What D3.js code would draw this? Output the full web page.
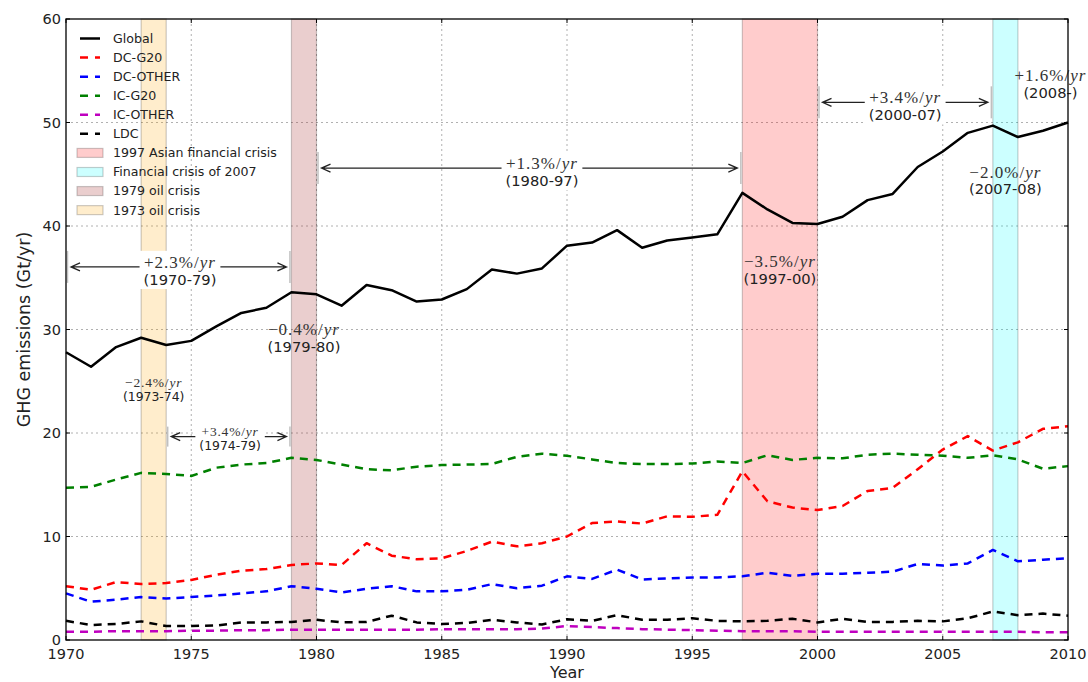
<!DOCTYPE html>
<html><head><meta charset="utf-8">
<script src="https://cdn.jsdelivr.net/npm/d3@7"></script>
<style>
body{margin:0;background:#fff}
svg{display:block}
text{font-family:"DejaVu Sans",sans-serif}
</style>
</head><body>
<svg id="c" width="1088" height="682"></svg>
<script>
// ---------------- data ----------------
const years = d3.range(1970, 2011);
const globalVals = [27.8,26.4,28.3,29.2,28.5,28.9,30.3,31.6,32.1,33.6,
                    33.4,32.3,34.3,33.8,32.7,32.9,33.9,35.8,35.4,35.9,
                    38.1,38.4,39.6,37.9,38.6,38.9,39.2,43.2,41.6,40.3,
                    40.2,40.9,42.5,43.1,45.7,47.2,49.0,49.7,48.6,49.2,50.0];
const dcG20 = [5.2,4.85,5.6,5.4,5.5,5.8,6.3,6.7,6.85,7.25,
               7.4,7.25,9.35,8.15,7.8,7.9,8.6,9.5,9.05,9.35,
               10.0,11.3,11.45,11.25,11.95,11.9,12.1,16.3,13.4,12.8,
               12.55,12.95,14.4,14.7,16.5,18.4,19.7,18.3,19.1,20.4,20.65];
const dcOther = [4.5,3.7,3.9,4.15,4.0,4.15,4.3,4.5,4.7,5.2,
                 4.95,4.6,4.95,5.2,4.7,4.7,4.85,5.4,5.0,5.25,
                 6.15,5.9,6.8,5.85,5.95,6.05,6.05,6.15,6.5,6.2,
                 6.4,6.4,6.5,6.6,7.35,7.2,7.4,8.7,7.6,7.75,7.9];
const icG20 = [14.7,14.8,15.5,16.15,16.05,15.85,16.65,16.95,17.1,17.6,
               17.4,16.95,16.5,16.4,16.75,16.9,16.95,17.0,17.7,18.0,
               17.8,17.45,17.1,17.0,17.0,17.05,17.25,17.1,17.85,17.4,
               17.6,17.55,17.9,18.0,17.9,17.8,17.6,17.85,17.45,16.55,16.8];
const icOther = [0.8,0.8,0.85,0.85,0.85,0.9,0.9,0.95,0.95,1.0,
                 1.0,1.0,1.0,1.0,1.0,1.05,1.05,1.05,1.05,1.1,
                 1.35,1.25,1.15,1.05,1.0,0.95,0.9,0.85,0.85,0.85,
                 0.8,0.8,0.8,0.8,0.8,0.8,0.8,0.8,0.8,0.75,0.75];
const ldc = [1.85,1.45,1.55,1.8,1.35,1.35,1.4,1.7,1.7,1.75,
             1.95,1.7,1.75,2.35,1.7,1.55,1.65,1.95,1.7,1.5,
             2.0,1.85,2.4,1.95,1.95,2.1,1.85,1.8,1.85,2.05,
             1.7,2.05,1.75,1.75,1.85,1.8,2.1,2.75,2.4,2.55,2.35];

const seriesNames = ["Global","DC-G20","DC-OTHER","IC-G20","IC-OTHER","LDC"];
const seriesValues = [globalVals, dcG20, dcOther, icG20, icOther, ldc];
const seriesColors = ["#000000","#ff0000","#0000ff","#008000","#bf00bf","#000000"];
const seriesDashed = [false,true,true,true,true,true];

const bandNames = ["1997 Asian financial crisis","Financial crisis of 2007","1979 oil crisis","1973 oil crisis"];
const bandStart = [1997,2007,1979,1973];
const bandEnd = [2000,2008,1980,1974];
const bandColors = ["#ff0000","#00ffff","#a52a2a","#ffa500"];

// growth arrows
const arrowFrom = [1970,1974,1980,2000];
const arrowTo = [1979,1979,1997,2007];
const arrowLevel = [36.05,19.65,45.6,51.95];
const arrowRate = ["+2.3","+3.4","+1.3","+3.4"];
const arrowPeriod = ["(1970-79)","(1974-79)","(1980-97)","(2000-07)"];
const arrowTextYear = [1974.55,1976.55,1989.0,2003.5];
const arrowSmall = [false,true,false,false];

// crisis-period labels (no arrows)
const dipRate = ["\u22122.4","\u22120.4","\u22123.5","\u22122.0","+1.6"];
const dipPeriod = ["(1973-74)","(1979-80)","(1997-00)","(2007-08)","(2008-)"];
const dipYear = [1973.5,1979.5,1998.5,2007.5,2009.3];
const dipLevel = [24.86,30.05,36.62,45.25,54.6];
const dipSmall = [true,false,false,false,false];

const xTicks = [1970,1975,1980,1985,1990,1995,2000,2005,2010];
const yTicks = [0,10,20,30,40,50,60];

// ---------------- chart ----------------
const L = 66, R = 1068, T = 19, B = 640;
const svg = d3.select("#c");
const x = d3.scaleLinear().domain([1970,2010]).range([L,R]);
const y = d3.scaleLinear().domain([0,60]).range([B,T]);

// grid
const grid = svg.append("g").attr("stroke","#b0b0b0").attr("stroke-width",1).attr("stroke-dasharray","2,3");
xTicks.slice(1,-1).forEach(t => grid.append("line").attr("x1",x(t)).attr("x2",x(t)).attr("y1",T).attr("y2",B));
yTicks.slice(1,-1).forEach(t => grid.append("line").attr("x1",L).attr("x2",R).attr("y1",y(t)).attr("y2",y(t)));

// bands
const bandG = svg.append("g");
bandNames.forEach((n,i) => {
  bandG.append("rect")
    .attr("x", x(bandStart[i])).attr("width", x(bandEnd[i]) - x(bandStart[i]))
    .attr("y", T).attr("height", B - T)
    .attr("fill", bandColors[i]).attr("fill-opacity", i===2 ? 0.23 : 0.2)
    .attr("stroke", "rgba(0,0,0,0.2)").attr("stroke-width",1.2);
});

// series lines
const line = d3.line().x((d,i) => x(years[i])).y(d => y(d));
const linesG = svg.append("g").attr("fill","none");
[1,2,3,4,5,0].forEach(i => {
  linesG.append("path").datum(seriesValues[i])
    .attr("d", line)
    .attr("stroke", seriesColors[i])
    .attr("stroke-width", 2.5)
    .attr("stroke-linejoin","round")
    .attr("stroke-dasharray", seriesDashed[i] ? "8,6" : null);
});

// helper for math label: "+2.3%/yr"
function mathLabel(g, cx, cy, rate, size){
  const t = g.append("text").attr("x",cx).attr("y",cy).attr("dy","0.35em")
    .attr("text-anchor","middle")
    .style("font-family","'Liberation Serif','DejaVu Serif',serif")
    .style("font-size", size+"px").style("letter-spacing", (size*0.06)+"px")
    .attr("fill","#333");
  t.append("tspan").text(rate + "%/");
  t.append("tspan").style("font-style","italic").text("yr");
  return t;
}
function periodLabel(g, cx, cy, txt, size){
  return g.append("text").attr("x",cx).attr("y",cy).attr("dy","0.35em")
    .attr("text-anchor","middle").style("font-size", size+"px").attr("fill","#222").text(txt);
}

// arrows
const annG = svg.append("g");
arrowFrom.forEach((a,i) => {
  const g = annG.append("g");
  const yy = y(arrowLevel[i]);
  const x0 = x(a), x1 = x(arrowTo[i]);
  const half = arrowSmall[i] ? 10 : 16;
  g.append("line").attr("x1",x0+1.5).attr("x2",x0+1.5).attr("y1",yy-half).attr("y2",yy+half)
    .attr("stroke","#c0c0c0").attr("stroke-width",1.5);
  g.append("line").attr("x1",x1-1.5).attr("x2",x1-1.5).attr("y1",yy-half).attr("y2",yy+half)
    .attr("stroke","#c0c0c0").attr("stroke-width",1.5);
  const p0 = x0 + 5, p1 = x1 - 5;
  g.append("path")
    .attr("d", `M${p0},${yy}L${p1},${yy}M${p0+9},${yy-4}L${p0},${yy}L${p0+9},${yy+4}M${p1-9},${yy-4}L${p1},${yy}L${p1-9},${yy+4}`)
    .attr("fill","none").attr("stroke","#222").attr("stroke-width",1.3);
  const big = !arrowSmall[i];
  const cx = x(arrowTextYear[i]);
  const tg = g.append("g");
  mathLabel(tg, cx, yy - 5, arrowRate[i], big ? 17 : 13.5);
  periodLabel(tg, cx, yy + (big ? 13 : 9.5), arrowPeriod[i], big ? 14.7 : 12.4);
  const bb = tg.node().getBBox();
  g.insert("rect", "g").attr("x", bb.x - 4).attr("y", bb.y - 2).attr("width", bb.width + 8).attr("height", bb.height + 3)
    .attr("fill","#fff");
});

// dip labels
dipRate.forEach((r,i) => {
  const cx = x(dipYear[i]), cy = y(dipLevel[i]);
  const small = dipSmall[i];
  mathLabel(annG, cx, cy, r, small ? 13.5 : 17);
  periodLabel(annG, cx, cy + (small ? 14 : 17.5), dipPeriod[i], small ? 12.4 : 14.7);
});

// spines and ticks
const ax = svg.append("g").attr("stroke","#000");
ax.append("rect").attr("x",L).attr("y",T).attr("width",R-L).attr("height",B-T)
  .attr("fill","none").attr("stroke-width",1.3);
xTicks.forEach(t => {
  ax.append("line").attr("x1",x(t)).attr("x2",x(t)).attr("y1",B).attr("y2",B-4);
  ax.append("line").attr("x1",x(t)).attr("x2",x(t)).attr("y1",T).attr("y2",T+4);
});
yTicks.forEach(t => {
  ax.append("line").attr("x1",L).attr("x2",L+4).attr("y1",y(t)).attr("y2",y(t));
  ax.append("line").attr("x1",R).attr("x2",R-4).attr("y1",y(t)).attr("y2",y(t));
});
const tl = svg.append("g").style("font-size","14.5px").attr("fill","#222");
xTicks.forEach(t => tl.append("text").attr("x",x(t)).attr("y",B+18.5).attr("text-anchor","middle").text(t));
yTicks.forEach(t => tl.append("text").attr("x",L-5).attr("y",y(t)).attr("dy","0.35em").attr("text-anchor","end").text(t));

svg.append("text").attr("x",(L+R)/2).attr("y",678).attr("text-anchor","middle")
  .style("font-size","16px").attr("fill","#222").text("Year");
svg.append("text").attr("transform",`translate(24,${(T+B)/2}) rotate(-90)`).attr("dy","0.35em")
  .attr("text-anchor","middle").style("font-size","17.5px").attr("fill","#222").text("GHG emissions (Gt/yr)");

// legend
const lg = svg.append("g");
const lx = 80, ly0 = 38.5, step = 19.07;
seriesNames.forEach((n,i) => {
  const yy = ly0 + i*step;
  lg.append("line").attr("x1",lx).attr("x2",lx+20).attr("y1",yy).attr("y2",yy)
    .attr("stroke",seriesColors[i]).attr("stroke-width",2.5)
    .attr("stroke-dasharray", seriesDashed[i] ? "8,7" : null);
  lg.append("text").attr("x",113).attr("y",yy).attr("dy","0.35em").style("font-size","12.6px").attr("fill","#222").text(n);
});
bandNames.forEach((n,i) => {
  const yy = ly0 + (i+6)*step;
  lg.append("rect").attr("x",77).attr("y",yy-4.5).attr("width",26).attr("height",9)
    .attr("fill",bandColors[i]).attr("fill-opacity", i===2 ? 0.23 : 0.2)
    .attr("stroke","rgba(0,0,0,0.2)").attr("stroke-width",1.2);
  lg.append("text").attr("x",113).attr("y",yy).attr("dy","0.35em").style("font-size","12.6px").attr("fill","#222").text(n);
});
</script>
</body></html>
